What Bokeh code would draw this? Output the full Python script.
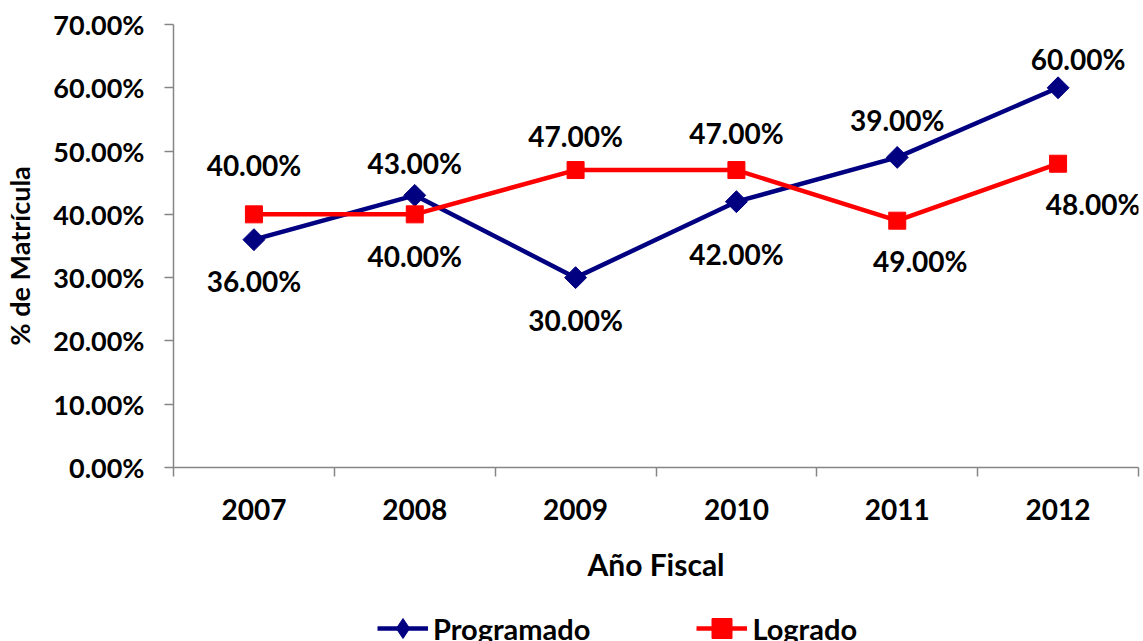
import math
from bokeh.plotting import figure
from bokeh.layouts import column
from bokeh.models import (FixedTicker, NumeralTickFormatter, Legend, LegendItem,
                          ColumnDataSource, Range1d)
from bokeh.core.properties import value
from bokeh.embed import file_html
from bokeh.resources import INLINE

# ---- data ----
years = ["2007", "2008", "2009", "2010", "2011", "2012"]
programado = [0.36, 0.43, 0.30, 0.42, 0.49, 0.60]
logrado = [0.40, 0.40, 0.47, 0.47, 0.39, 0.48]
programado_labels = ["36.00%", "43.00%", "30.00%", "42.00%", "39.00%", "60.00%"]
logrado_labels = ["40.00%", "40.00%", "47.00%", "47.00%", "49.00%", "48.00%"]
y_ticks = [0.0, 0.1, 0.2, 0.3, 0.4, 0.5, 0.6, 0.7]

# ---- label placement (style) ----
prog_dy = [-41, 32, -42, -52, 37, 29]     # + above, - below (pixels)
logr_dy = [49, -42, 34, 37, -40, -40]
prog_dx = [0, 0, 0, 0, 0, 20]
logr_dx = [0, 0, 0, 0, 23, 35]

FONT = "Lato"
NAVY = "#000080"
RED = "#FF0000"
AXIS = "#868686"

x = [i + 0.5 for i in range(len(years))]

p = figure(width=1143, height=600, output_backend="svg", toolbar_location=None,
           x_range=Range1d(0, len(years)), y_range=Range1d(0, 0.7),
           min_border_left=173, min_border_right=5, min_border_top=24,
           min_border_bottom=133)
p.outline_line_color = None
p.xgrid.grid_line_color = None
p.ygrid.grid_line_color = None
p.background_fill_color = "white"
p.border_fill_color = "white"

# y axis
ya = p.yaxis[0]
ya.ticker = FixedTicker(ticks=y_ticks)
ya.formatter = NumeralTickFormatter(format="0.00%")
ya.axis_line_color = AXIS
ya.axis_line_width = 1.5
ya.major_tick_line_color = AXIS
ya.major_tick_line_width = 1.5
ya.major_tick_out = 9
ya.major_tick_in = 0
ya.minor_tick_line_color = None
ya.major_label_text_font = FONT
ya.major_label_text_font_style = "bold"
ya.major_label_text_font_size = "27px"
ya.major_label_text_color = "black"
ya.major_label_standoff = 20
ya.axis_label = "% de Matrícula" + "\u00a0" * 3
ya.axis_label_text_font = FONT
ya.axis_label_text_font_style = "bold"
ya.axis_label_text_font_size = "27px"
ya.axis_label_text_color = "black"
ya.axis_label_standoff = 14

# x axis
xa = p.xaxis[0]
xa.ticker = FixedTicker(ticks=x, minor_ticks=list(range(len(years) + 1)))
xa.major_label_overrides = {xx: yy for xx, yy in zip(x, years)}
xa.axis_line_color = AXIS
xa.axis_line_width = 1.5
xa.major_tick_line_color = None
xa.major_tick_out = 9
xa.minor_tick_line_color = AXIS
xa.minor_tick_line_width = 1.5
xa.minor_tick_out = 9
xa.minor_tick_in = 0
xa.major_label_text_font = FONT
xa.major_label_text_font_style = "bold"
xa.major_label_text_font_size = "28px"
xa.major_label_text_color = "black"
xa.major_label_standoff = 22
xa.axis_label = "Año Fiscal"
xa.axis_label_text_font = FONT
xa.axis_label_text_font_style = "bold"
xa.axis_label_text_font_size = "30px"
xa.axis_label_text_color = "black"
xa.axis_label_standoff = 23

# series
src_p = ColumnDataSource(dict(x=x, y=programado))
src_l = ColumnDataSource(dict(x=x, y=logrado))
line_p = dict(line_color=NAVY, line_width=4.5)
mark_p = dict(marker="square", angle=math.pi / 4, size=15.5,
              fill_color=NAVY, line_color=NAVY)
line_l = dict(line_color=RED, line_width=4.5)
mark_l = dict(marker="square", size=17, fill_color=RED, line_color=RED)

p.line("x", "y", source=src_p, **line_p)
p.scatter("x", "y", source=src_p, **mark_p)
p.line("x", "y", source=src_l, **line_l)
p.scatter("x", "y", source=src_l, **mark_l)

# data labels
for vals, labs, dys, dxs in ((programado, programado_labels, prog_dy, prog_dx),
                             (logrado, logrado_labels, logr_dy, logr_dx)):
    src = ColumnDataSource(dict(x=x, y=vals, t=labs, xo=dxs,
                                yo=[-d for d in dys]))
    p.text("x", "y", text="t", source=src, x_offset="xo", y_offset="yo",
           text_font=value(FONT), text_font_style="bold",
           text_font_size="28px", text_color="black",
           text_align="center", text_baseline="middle")

# ---- legend strip (separate figure below the chart) ----
p2 = figure(width=1143, height=41, output_backend="svg", toolbar_location=None,
            x_range=Range1d(0, len(years)), y_range=Range1d(10, 11),
            x_axis_type=None, y_axis_type=None,
            min_border_left=0, min_border_right=0, min_border_top=0,
            min_border_bottom=0)
p2.outline_line_color = None
p2.xgrid.grid_line_color = None
p2.ygrid.grid_line_color = None
p2.background_fill_color = "white"
p2.border_fill_color = "white"
lp = p2.line("x", "y", source=src_p, **line_p)
mp = p2.scatter("x", "y", source=src_p, marker="diamond",
                fill_color=NAVY, line_color=NAVY)
ll = p2.line("x", "y", source=src_l, **line_l)
ml = p2.scatter("x", "y", source=src_l, marker="square",
                fill_color=RED, line_color=RED)

legend = Legend(items=[LegendItem(label="Programado", renderers=[lp, mp]),
                       LegendItem(label="Logrado", renderers=[ll, ml])],
                orientation="horizontal", location=(204, -12),
                glyph_width=51, glyph_height=50, label_height=50,
                label_standoff=5, spacing=106, padding=0, margin=0,
                border_line_color=None, background_fill_alpha=0,
                label_text_font=FONT, label_text_font_style="bold",
                label_text_font_size="29px", label_text_color="black")
p2.add_layout(legend, "center")

layout = column(p, p2, spacing=0)
open("out.html", "w").write(file_html(layout, INLINE))
